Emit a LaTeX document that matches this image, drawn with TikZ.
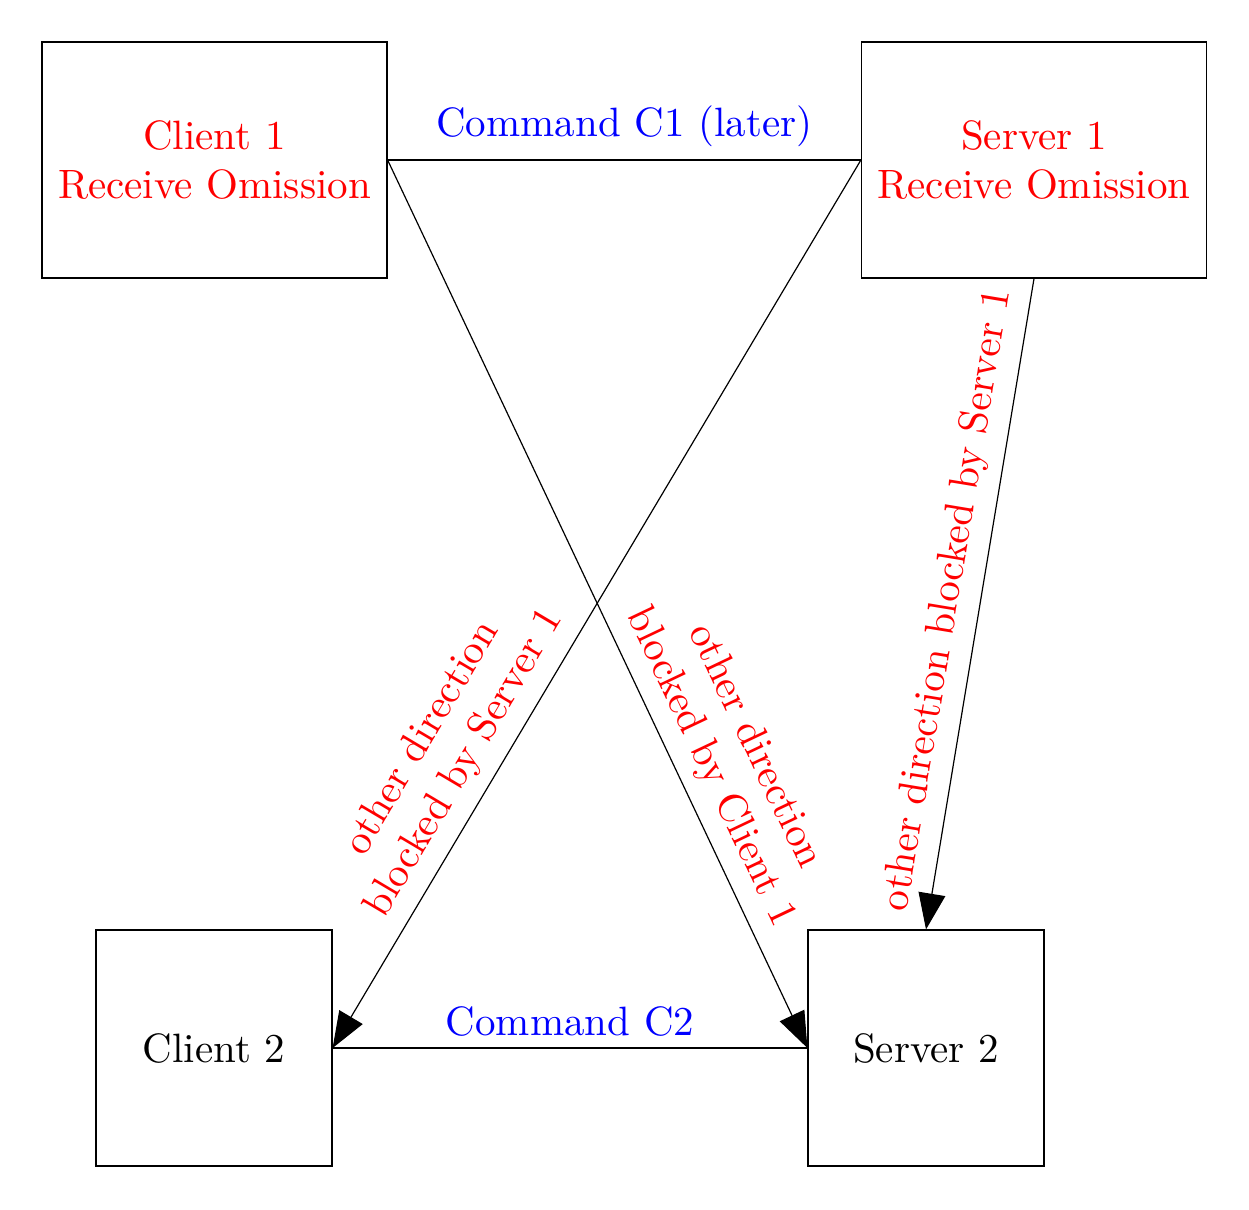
\documentclass[tikz,border=0pt]{standalone}
\usepackage{fontspec}
\usetikzlibrary{arrows.meta}
\begin{document}
\begin{tikzpicture}[x=0.25pt,y=-0.25pt,
  font=\fontsize{10.25}{12.25}\selectfont,
  line width=0.3pt,
  box/.style={draw, line width=0.3pt, inner sep=0pt, align=center},
  wide/.style={box, minimum width=86.25pt, minimum height=59pt, text=red},
  sq/.style={box, minimum width=59pt, minimum height=59pt},
  arr/.style={-{Triangle[length=9pt,width=6.75pt]}},
  lab/.style={text=red, align=center, inner sep=0pt},
  cmd/.style={text=blue, inner sep=0pt, anchor=base}]
\useasboundingbox (0,0) rectangle (1249,1209);
\node[wide] (c1) at (214.5,160) {Client 1\\Receive Omission};
\node[wide] (s1) at (1034,160) {Server 1\\Receive Omission};
\node[sq] (c2) at (214,1048) {Client 2};
\node[sq] (s2) at (926,1048) {Server 2};
\draw (c1.east) -- (s1.west) node[cmd, midway, yshift=5.75pt] (lc1) {Command C1 (later)};
\draw (c2.east) -- (s2.west) node[cmd, midway, yshift=3.25pt] (lc2) {Command C2};
\draw[arr] (c1.east) -- (s2.west);
\draw[arr] (s1.west) -- (c2.east);
\draw[arr] (s1.south) -- (s2.north);
\node[lab, rotate=80.6] (la) at (948,600) {other direction blocked by Server 1};
\node[lab, rotate=59.3] (lb) at (444,751) {other direction\\blocked by Server 1};
\node[lab, rotate=-64.6] (lcl) at (732,757) {other direction\\blocked by Client 1};
\end{tikzpicture}
\end{document}
